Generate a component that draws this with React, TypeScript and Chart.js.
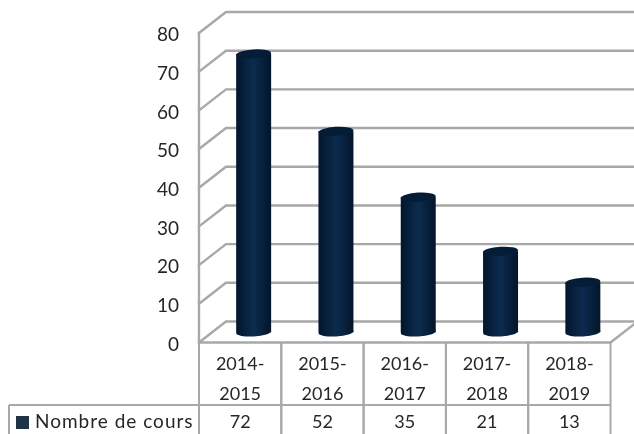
import React, { useEffect, useRef } from "react";
import { Chart, registerables } from "chart.js";

Chart.register(...registerables);

const categories = [["2014-", "2015"], ["2015-", "2016"], ["2016-", "2017"], ["2017-", "2018"], ["2018-", "2019"]];
const seriesName = "Nombre de cours";
const values = [72, 52, 35, 21, 13];

const FONT = "Lato, 'Noto Sans', sans-serif";
const TEXT = "#262626";
const GRID = "#a8a8a8";
const DX = 13.5;
const DY_FRONT = 10;
const DY_BACK = 11;
const BAR_HALF = 17.5;
const ELL = 4.5;
const TILT = -0.06;
const EDGE = "#03152b";
const CORE = "#0b2c4e";

const threeD = {
  id: "threeD",
  beforeDatasetsDraw(chart: any) {
    const { ctx, scales, chartArea } = chart;
    const y = scales.y;
    const fl = chartArea.left - DX;
    const fr = chartArea.right - DX;
    const bl = chartArea.left + DX;
    ctx.save();
    ctx.strokeStyle = GRID;
    ctx.lineWidth = 2.4;
    ctx.lineCap = "square";
    y.ticks.forEach((t: any) => {
      const p = y.getPixelForValue(t.value);
      ctx.beginPath();
      ctx.moveTo(fl, p + DY_FRONT);
      ctx.lineTo(bl, p - DY_BACK);
      ctx.lineTo(chart.width + 2, p - DY_BACK);
      ctx.stroke();
    });
    const p0 = y.getPixelForValue(0);
    const pTop = y.getPixelForValue(y.max);
    ctx.beginPath();
    ctx.moveTo(fl, pTop + DY_FRONT);
    ctx.lineTo(fl, p0 + DY_FRONT);
    ctx.lineTo(fr, p0 + DY_FRONT);
    ctx.lineTo(chartArea.right + DX, p0 - DY_BACK);
    ctx.stroke();
    ctx.restore();
  },
  afterDatasetsDraw(chart: any) {
    const { ctx, scales } = chart;
    const meta = chart.getDatasetMeta(0);
    ctx.save();
    meta.data.forEach((bar: any) => {
      const g = ctx.createLinearGradient(bar.x - BAR_HALF, 0, bar.x + BAR_HALF, 0);
      g.addColorStop(0, EDGE);
      g.addColorStop(0.5, CORE);
      g.addColorStop(1, EDGE);
      ctx.fillStyle = g;
      ctx.beginPath();
      ctx.ellipse(bar.x, bar.base - 0.5, BAR_HALF, ELL, TILT, 0, Math.PI * 2);
      ctx.fill();
      ctx.fillStyle = "#051c36";
      ctx.beginPath();
      ctx.ellipse(bar.x, bar.y, BAR_HALF, ELL, TILT, 0, Math.PI * 2);
      ctx.fill();
    });

    // data table
    const p0 = scales.y.getPixelForValue(0) + DY_FRONT;
    const rowTop = 405;
    const h = chart.height + 2;
    const x = scales.x;
    const step = x.getPixelForValue(1) - x.getPixelForValue(0);
    const colL = (i: number) => x.getPixelForValue(0) + i * step - DX - step / 2;
    ctx.strokeStyle = GRID;
    ctx.lineWidth = 2;
    values.forEach((_, i) => {
      for (const c of [colL(i), colL(i + 1)]) {
        ctx.beginPath();
        ctx.moveTo(c, p0);
        ctx.lineTo(c, h);
        ctx.stroke();
      }
    });
    ctx.beginPath();
    ctx.moveTo(9, rowTop);
    ctx.lineTo(colL(values.length), rowTop);
    ctx.moveTo(9, rowTop);
    ctx.lineTo(9, h);
    ctx.stroke();

    ctx.fillStyle = TEXT;
    ctx.font = `18px ${FONT}`;
    ctx.textBaseline = "middle";
    ctx.textAlign = "center";
    values.forEach((v, i) => {
      ctx.fillText(String(v), colL(i) + step / 2, 422);
    });
    ctx.textAlign = "left";
    ctx.font = `19px ${FONT}`;
    (ctx as any).letterSpacing = "1px";
    ctx.fillText(seriesName, 35, 422);
    (ctx as any).letterSpacing = "0px";
    ctx.fillStyle = "#1f3247";
    ctx.fillRect(16, 416, 13, 13);
    ctx.restore();
  },
};

export default function App() {
  const ref = useRef<HTMLCanvasElement>(null);
  useEffect(() => {
    document.body.style.margin = "0";
    const chart = new Chart(ref.current!, {
      type: "bar",
      data: {
        labels: categories,
        datasets: [
          {
            label: seriesName,
            data: values,
            barPercentage: 0.425,
            categoryPercentage: 1,
            borderWidth: 0,
            backgroundColor: (c: any) => {
              const sx = c.chart.scales.x;
              if (!sx || typeof c.dataIndex !== "number") return CORE;
              const cx = sx.getPixelForValue(c.dataIndex);
              if (!Number.isFinite(cx)) return CORE;
              const g = c.chart.ctx.createLinearGradient(cx - BAR_HALF, 0, cx + BAR_HALF, 0);
              g.addColorStop(0, EDGE);
              g.addColorStop(0.5, CORE);
              g.addColorStop(1, EDGE);
              return g;
            },
          },
        ],
      },
      options: {
        responsive: false,
        animation: false,
        layout: { padding: { top: 23, right: 10, left: 0, bottom: 0 } },
        plugins: { legend: { display: false }, title: { display: false }, tooltip: { enabled: false } },
        scales: {
          x: {
            afterFit: (s: any) => { s.height = 101.5; s.paddingLeft = 0; s.paddingRight = 0; },
            grid: { display: false, drawTicks: false },
            border: { display: false },
            ticks: {
              autoSkip: false,
              maxRotation: 0,
              minRotation: 0,
              padding: 17,
              labelOffset: -DX,
              color: TEXT,
              font: { family: FONT, size: 18, lineHeight: 1.65 },
            },
          },
          y: {
            min: 0,
            max: 80,
            afterFit: (s: any) => { s.width = 212.5; s.paddingTop = 0; s.paddingBottom = 0; },
            grid: { display: false, drawTicks: false },
            border: { display: false },
            ticks: {
              stepSize: 10,
              padding: 33.5,
              labelOffset: DY_FRONT + 2,
              color: TEXT,
              font: { family: FONT, size: 19 },
            },
          },
        },
      },
      plugins: [threeD],
    } as any);
    return () => chart.destroy();
  }, []);
  return <canvas ref={ref} width={634} height={434} style={{ display: "block" }} />;
}
